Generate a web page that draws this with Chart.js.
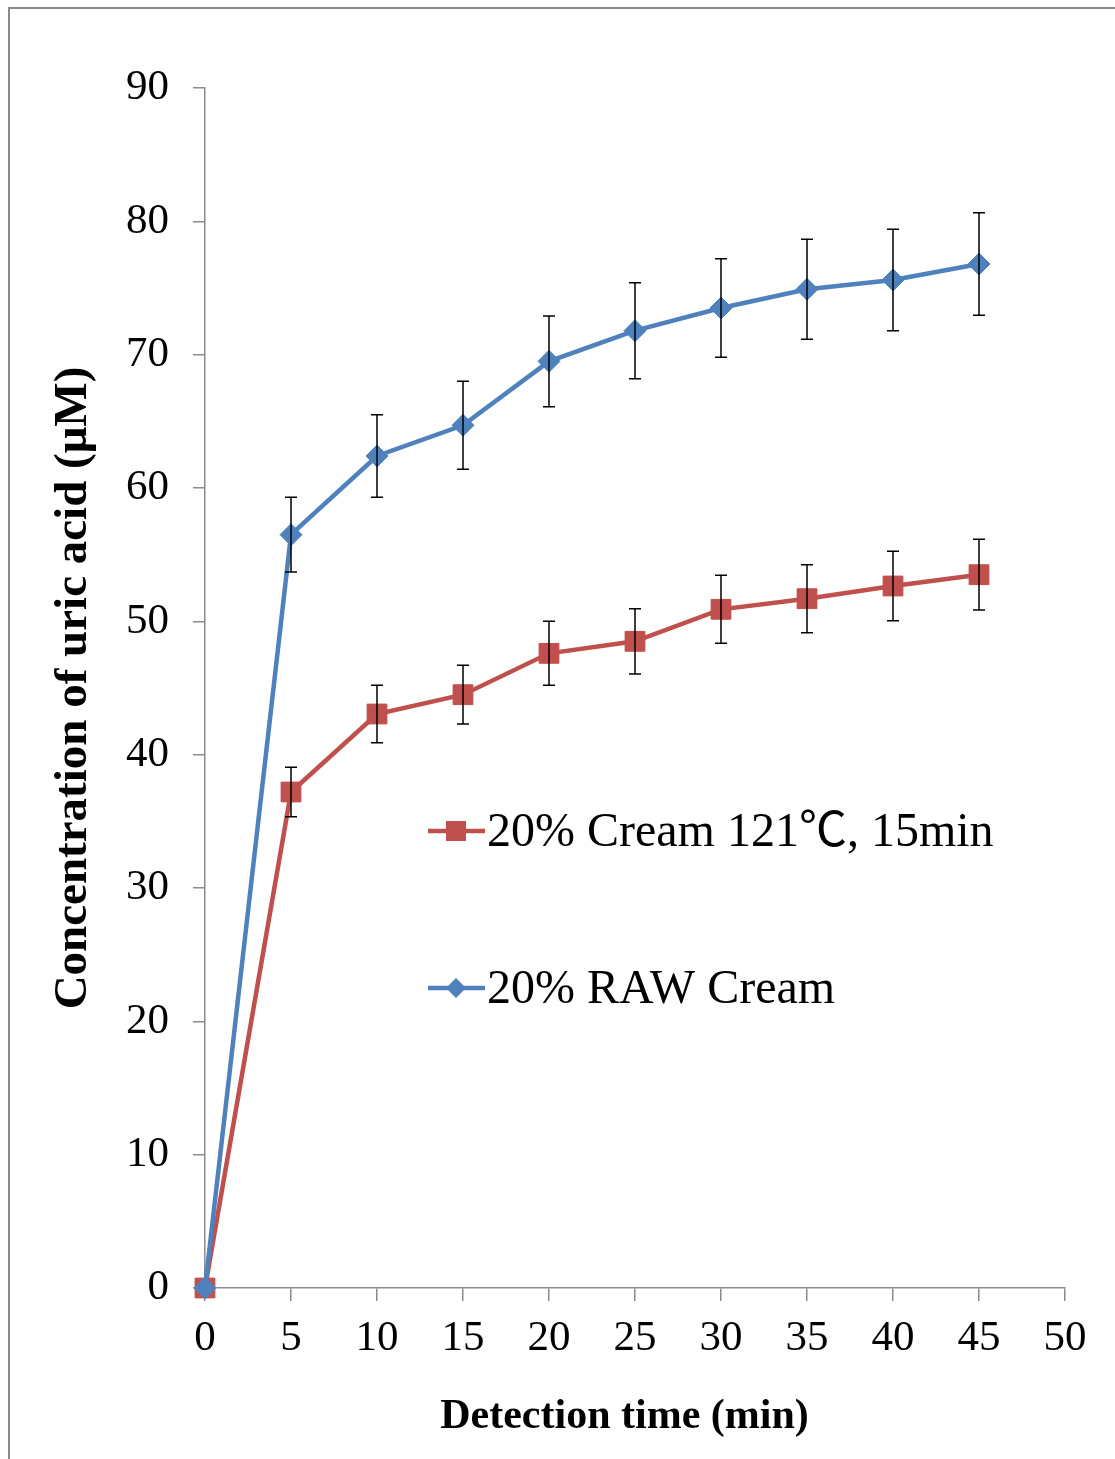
<!DOCTYPE html>
<html>
<head>
<meta charset="utf-8">
<style>
  body { margin: 0; background: #fff; }
  #wrap { position: relative; width: 1115px; height: 1459px; overflow: hidden; }
  #frame { position: absolute; left: 8px; top: 7px; width: 1200px; height: 1600px;
           border-top: 2.5px solid #8a8a8a; border-left: 2.5px solid #8a8a8a; }
  canvas { position: absolute; left: 0; top: 0; }
</style>
</head>
<body>
<div id="wrap">
  <div id="frame"></div>
  <canvas id="chart" width="1115" height="1459"></canvas>
</div>

<script src="https://cdn.jsdelivr.net/npm/chart.js@4/dist/chart.umd.min.js"></script>
<script>
  // data
  const times = [0, 5, 10, 15, 20, 25, 30, 35, 40, 45];
  const rawCream = [0, 56.5, 62.4, 64.7, 69.5, 71.8, 73.5, 74.9, 75.6, 76.8];
  const rawCreamErr = [0, 2.8, 3.1, 3.3, 3.4, 3.6, 3.7, 3.75, 3.8, 3.85];
  const heatedCream = [0, 37.2, 43.05, 44.5, 47.6, 48.5, 50.9, 51.7, 52.65, 53.5];
  const heatedCreamErr = [0, 1.85, 2.15, 2.2, 2.4, 2.45, 2.55, 2.55, 2.6, 2.65];
  const xTicks = [0, 5, 10, 15, 20, 25, 30, 35, 40, 45, 50];
  const yTicks = [0, 10, 20, 30, 40, 50, 60, 70, 80, 90];

  const serif = "'Liberation Serif', 'Times New Roman', 'Noto Sans CJK SC', serif";
  const blue = '#4F81BD';
  const red = '#C0504D';
  const axisGrey = '#8c8c8c';

  function toPoints(vals, errs) {
    return times.map((t, i) => ({ x: t, y: vals[i], err: errs[i] }));
  }

  // error bars with caps, drawn over the markers
  const errorBars = {
    id: 'errorBars',
    afterDatasetsDraw(chart) {
      const ctx = chart.ctx;
      const ys = chart.scales.y;
      ctx.save();
      ctx.strokeStyle = '#000';
      ctx.lineWidth = 1.5;
      chart.data.datasets.forEach((ds, di) => {
        const meta = chart.getDatasetMeta(di);
        meta.data.forEach((pt, i) => {
          const e = ds.data[i].err;
          if (!e) return;
          const top = ys.getPixelForValue(ds.data[i].y + e);
          const bot = ys.getPixelForValue(ds.data[i].y - e);
          ctx.beginPath();
          ctx.moveTo(pt.x, top); ctx.lineTo(pt.x, bot);
          ctx.moveTo(pt.x - 6, top); ctx.lineTo(pt.x + 6, top);
          ctx.moveTo(pt.x - 6, bot); ctx.lineTo(pt.x + 6, bot);
          ctx.stroke();
        });
      });
      ctx.restore();
    }
  };

  // legend placed inside the plot area, like the original
  const innerLegend = {
    id: 'innerLegend',
    afterDraw(chart) {
      const ctx = chart.ctx;
      const items = [
        { ds: chart.data.datasets[1], y: 831 },
        { ds: chart.data.datasets[0], y: 988 }
      ];
      ctx.save();
      items.forEach(it => {
        ctx.strokeStyle = it.ds.borderColor;
        ctx.lineWidth = 4.5;
        ctx.beginPath();
        ctx.moveTo(428, it.y); ctx.lineTo(485, it.y);
        ctx.stroke();
        ctx.fillStyle = it.ds.backgroundColor;
        if (it.ds.pointStyle === 'rect') {
          ctx.fillRect(446, it.y - 10, 20, 20);
        } else {
          ctx.beginPath();
          ctx.moveTo(456 - 10, it.y); ctx.lineTo(456, it.y - 10);
          ctx.lineTo(456 + 10, it.y); ctx.lineTo(456, it.y + 10);
          ctx.closePath(); ctx.fill();
        }
        ctx.fillStyle = '#000';
        ctx.font = '48px ' + serif;
        ctx.textBaseline = 'middle';
        ctx.textAlign = 'left';
        ctx.fillText(it.ds.label, 487, it.y + 2);
      });
      ctx.restore();
    }
  };

  new Chart(document.getElementById('chart'), {
    type: 'line',
    data: {
      datasets: [
        {
          label: '20% RAW Cream',
          data: toPoints(rawCream, rawCreamErr),
          borderColor: blue,
          backgroundColor: blue,
          borderWidth: 4.5,
          pointStyle: 'rectRot',
          pointRadius: 11,
          pointBorderWidth: 1,
          tension: 0,
          clip: false,
          order: 0
        },
        {
          label: '20% Cream 121\u2103, 15min',
          data: toPoints(heatedCream, heatedCreamErr),
          borderColor: red,
          backgroundColor: red,
          borderWidth: 4.5,
          pointStyle: 'rect',
          pointRadius: 14,
          pointBorderWidth: 1,
          tension: 0,
          clip: false,
          order: 1
        }
      ]
    },
    options: {
      responsive: false,
      animation: false,
      layout: { padding: { top: 88, right: 50, bottom: 0, left: 0 } },
      plugins: { legend: { display: false }, tooltip: { enabled: false } },
      scales: {
        x: {
          type: 'linear',
          min: 0, max: 50,
          afterFit(scale) { scale.height = 171; },
          afterBuildTicks(scale) { scale.ticks = xTicks.map(v => ({ value: v })); },
          border: { display: true, color: axisGrey, width: 1.5 },
          grid: { drawOnChartArea: false, drawTicks: true, tickLength: 13, color: axisGrey, lineWidth: 1.5 },
          ticks: { color: '#000', font: { family: serif, size: 43 }, padding: 12, maxRotation: 0 },
          title: {
            display: true,
            text: 'Detection time (min)\u00a0\u00a0',
            color: '#000',
            font: { family: serif, size: 42, weight: 'bold' },
            padding: { top: 0, bottom: 17 }
          }
        },
        y: {
          min: 0, max: 90,
          afterFit(scale) { scale.width = 205; },
          afterBuildTicks(scale) { scale.ticks = yTicks.map(v => ({ value: v })); },
          border: { display: true, color: axisGrey, width: 1.5 },
          grid: { drawOnChartArea: false, drawTicks: true, tickLength: 12, color: axisGrey, lineWidth: 1.5 },
          ticks: { color: '#000', font: { family: serif, size: 43 }, padding: 24 },
          title: {
            display: true,
            text: 'Concentration of uric acid (\u03bcM)',
            color: '#000',
            font: { family: serif, size: 47, weight: 'bold' },
            padding: { top: 46, bottom: 0 }
          }
        }
      }
    },
    plugins: [errorBars, innerLegend]
  });
</script>
</body>
</html>
